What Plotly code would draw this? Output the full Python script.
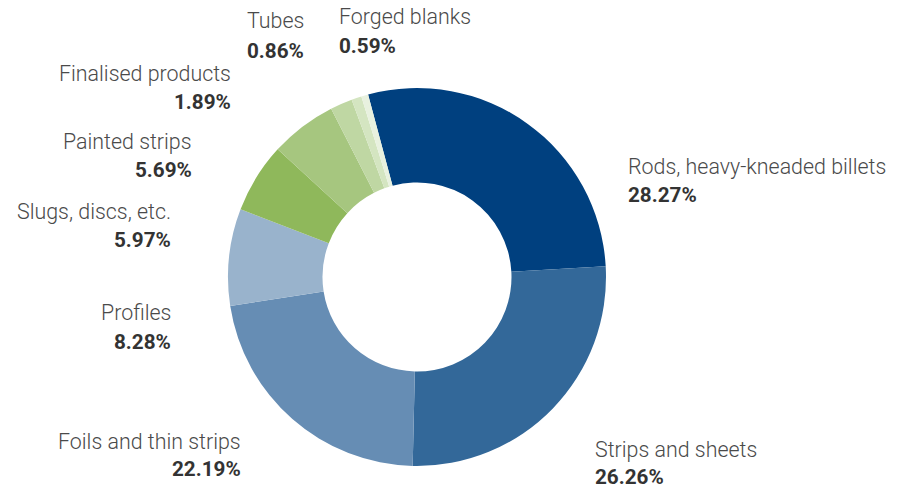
import plotly.graph_objects as go

# Product mix, share of volume (%)
categories = [
    "Rods, heavy-kneaded billets",
    "Strips and sheets",
    "Foils and thin strips",
    "Profiles",
    "Slugs, discs, etc.",
    "Painted strips",
    "Finalised products",
    "Tubes",
    "Forged blanks",
]
shares = [28.27, 26.26, 22.19, 8.28, 5.97, 5.69, 1.89, 0.86, 0.59]
colors = [
    "#00407f", "#336899", "#668db4", "#99b3cc",
    "#8fb85b", "#a6c67f", "#bfd7a3", "#d4e5c1", "#e8f1df",
]

W, H = 905, 489
cx, cy, R = 417, 277, 189

# label anchor points (px from top-left): x, name y, value y, alignment
label_pos = [
    (626, 167, 195, "left"),
    (593, 449, 477, "left"),
    (243, 441, 469, "right"),
    (173, 312, 342, "right"),
    (173, 211, 240, "right"),
    (194, 141, 170, "right"),
    (233, 73, 102, "right"),
    (306, 21, 51, "right"),
    (337, 17, 46, "left"),
]

fig = go.Figure(
    go.Pie(
        labels=categories,
        values=shares,
        hole=0.5,
        sort=False,
        direction="clockwise",
        rotation=-15,
        marker=dict(colors=colors, line=dict(width=0)),
        textinfo="none",
        hoverinfo="label+percent",
        domain=dict(
            x=[(cx - R) / W, (cx + R) / W],
            y=[(H - cy - R) / H, (H - cy + R) / H],
        ),
        showlegend=False,
    )
)

annotations = []
for name, val, (x, yn, yv, align) in zip(categories, shares, label_pos):
    common = dict(
        xref="paper", yref="paper", x=x / W, xanchor=align,
        yanchor="middle", showarrow=False, align=align,
    )
    annotations.append(dict(
        text=name, y=1 - yn / H,
        font=dict(family="Roboto", size=21.4, color="#4a4a4a", weight=300),
        **common,
    ))
    annotations.append(dict(
        text=f"{val:.2f}%", y=1 - yv / H,
        font=dict(family="Roboto", size=20.7, color="#333333", weight=700),
        **common,
    ))

fig.update_layout(
    width=W, height=H,
    margin=dict(l=0, r=0, t=0, b=0),
    paper_bgcolor="white",
    plot_bgcolor="white",
    annotations=annotations,
)

fig.write_html("out.html")
